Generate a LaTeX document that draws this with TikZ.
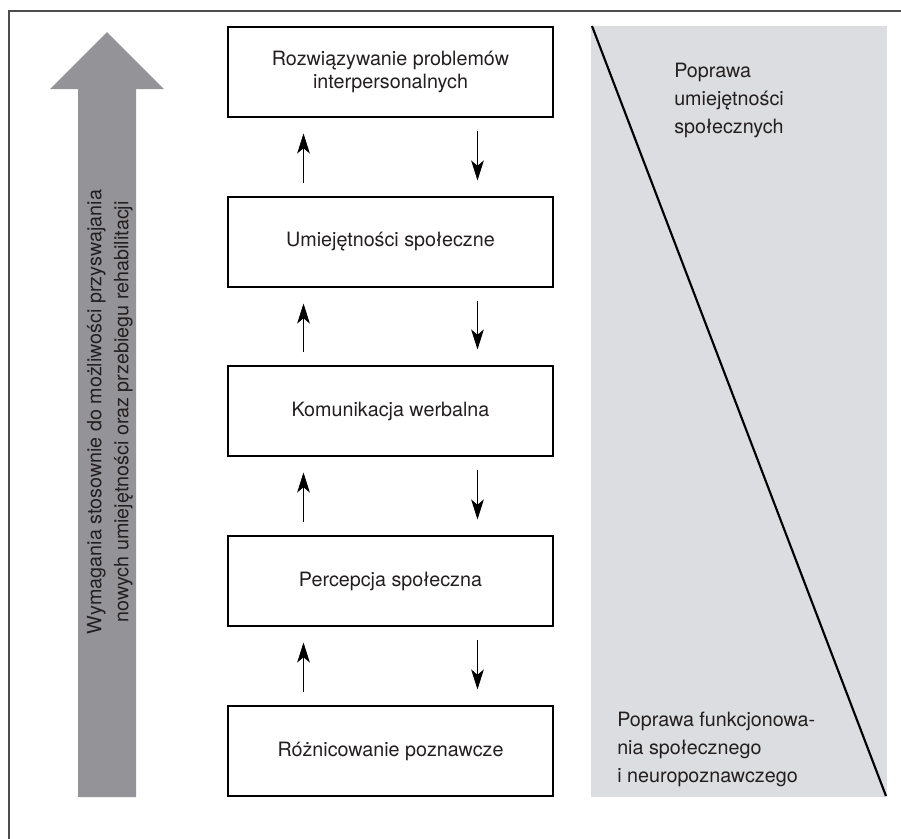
\documentclass[tikz,border=0pt]{standalone}
\usepackage{fontspec}
\setmainfont{TeX Gyre Heros}
\usetikzlibrary{arrows.meta}
\definecolor{arrowgray}{HTML}{939398}
\definecolor{panelgray}{HTML}{DCDDE0}
\definecolor{framegray}{HTML}{4D4D4D}
\definecolor{inkgray}{HTML}{231F20}

\begin{document}
\begin{tikzpicture}[x=0.75pt,y=-0.75pt,
		stage/.style={shape=rectangle, draw=black, fill=white, line width=0.8pt, minimum width=243.75pt, minimum height=67.5pt, inner sep=0pt, align=center, text=inkgray, font=\fontsize{14.8}{16.7}\selectfont},
		link/.style={line width=0.6pt, -{Stealth[length=15pt,width=9.5pt,inset=4pt]}, shorten <=9.75pt, shorten >=12pt},
		note/.style={anchor=north west, inner sep=0pt, align=left, text=inkgray, font=\fontsize{14.8}{20.8}\selectfont}]
				\useasboundingbox (0,0) rectangle (901,839);
				% frame, panel and the big arrow
				\draw[framegray, line width=0.9pt] (9,839) -- (9,11) -- (901,11);
				\fill[panelgray] (591,26) rectangle (887,797);
				\draw[line width=1.6pt] (592,26) -- (886,796);
				\fill[arrowgray] (78,797) -- (78,89) -- (50,89) -- (107,32) -- (164,89) -- (136,89) -- (136,797) -- cycle;
				\node[rotate=90, align=center, inner sep=0pt, text=inkgray, font=\fontsize{14.8}{20.25}\selectfont] (wym) at (110,412) {Wymagania stosownie do możliwości przyswajania\\nowych umiejętności oraz przebiegu rehabilitacji};
				% stages
				\node[stage] (rozw) at (390.5,72) {Rozwiązywanie problemów\\interpersonalnych};
				\node[stage] (umiej) at (390.5,242) {Umiejętności społeczne};
				\node[stage] (komun) at (390.5,411) {Komunikacja werbalna};
				\node[stage] (percep) at (390.5,581) {Percepcja społeczna};
				\node[stage] (rozn) at (390.5,751) {Różnicowanie poznawcze};
				\path[link] ([xshift=-65.25pt]umiej.north) edge ([xshift=-65.25pt]rozw.south);
				\path[link] ([xshift=65.25pt]rozw.south) edge ([xshift=65.25pt]umiej.north);
				\path[link] ([xshift=-65.25pt]komun.north) edge ([xshift=-65.25pt]umiej.south);
				\path[link] ([xshift=65.25pt]umiej.south) edge ([xshift=65.25pt]komun.north);
				\path[link] ([xshift=-65.25pt]percep.north) edge ([xshift=-65.25pt]komun.south);
				\path[link] ([xshift=65.25pt]komun.south) edge ([xshift=65.25pt]percep.north);
				\path[link] ([xshift=-65.25pt]rozn.north) edge ([xshift=-65.25pt]percep.south);
				\path[link] ([xshift=65.25pt]percep.south) edge ([xshift=65.25pt]rozn.north);
				% notes on the panel
				\node[note] (popr) at (674,63) {Poprawa\\umiejętności\\społecznych};
				\node[note] (funk) at (617,712) {Poprawa funkcjonowa-\\nia społecznego\\i neuropoznawczego};
			\end{tikzpicture}
\end{document}
